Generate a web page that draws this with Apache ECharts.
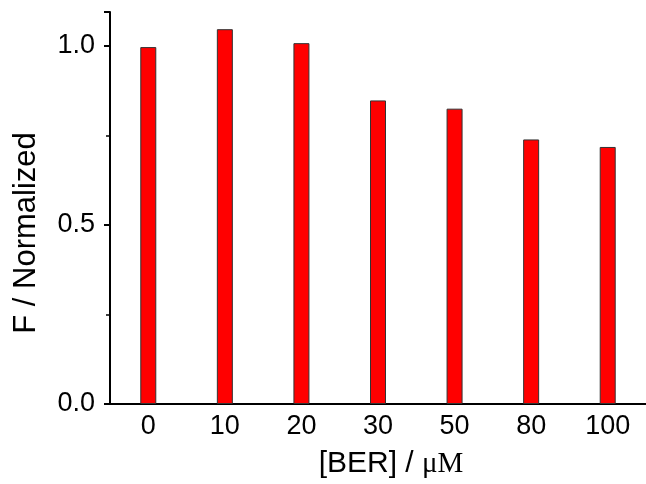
<!DOCTYPE html>
<html>
<head>
<meta charset="utf-8">
<script src="https://cdn.jsdelivr.net/npm/echarts@6/dist/echarts.min.js"></script>
<style>
html,body{margin:0;padding:0;background:#fff;}
#chart{width:646px;height:484px;}
</style>
</head>
<body>
<div id="chart"></div>
<script>
const categories = ['0', '10', '20', '30', '50', '80', '100'];
const values = [0.997, 1.047, 1.008, 0.848, 0.825, 0.739, 0.718];
const yTicks = [0.0, 0.5, 1.0];

const chart = echarts.init(document.getElementById('chart'));
const font = 'Liberation Sans, Arial, sans-serif';
chart.setOption({
  animation: false,
  backgroundColor: '#fff',
  grid: { left: 110, top: 12, width: 539, bottom: 77 },
  xAxis: {
    type: 'category',
    data: categories,
    name: '{a|[BER] / }{b|\u03bcM}',
    nameLocation: 'middle',
    nameGap: 45,
    nameTextStyle: {
      padding: [0, 0, 0, 26],
      rich: {
        a: { fontFamily: font, fontSize: 30, color: '#000' },
        b: { fontFamily: 'Liberation Serif, Times New Roman, serif', fontSize: 29, color: '#000' }
      }
    },
    axisLine: { lineStyle: { color: '#000', width: 2 } },
    axisTick: { alignWithLabel: true, length: 6, lineStyle: { color: '#000', width: 2 } },
    axisLabel: { fontFamily: font, fontSize: 27, color: '#000', margin: 9 },
    splitLine: { show: false }
  },
  yAxis: {
    type: 'value',
    min: 0,
    max: 1.095,
    interval: 0.5,
    name: 'F / Normalized',
    nameLocation: 'middle',
    nameGap: 68,
    nameTextStyle: { fontFamily: font, fontSize: 31, color: '#000', padding: [0, 50, 0, 0] },
    axisLine: { show: true, lineStyle: { color: '#000', width: 2 } },
    axisTick: { show: true, length: 6, lineStyle: { color: '#000', width: 2 } },
    minorTick: { show: true, splitNumber: 2, length: 4, lineStyle: { color: '#000', width: 1.5 } },
    axisLabel: {
      fontFamily: font, fontSize: 27, color: '#000', margin: 15,
      showMaxLabel: false,
      formatter: v => (yTicks.indexOf(v) >= 0 ? v.toFixed(1) : '')
    },
    splitLine: { show: false }
  },
  series: [{
    type: 'bar',
    data: values,
    barWidth: 16,
    itemStyle: { color: '#ff0000', borderColor: '#333', borderWidth: 1 }
  }]
});
</script>
</body>
</html>
